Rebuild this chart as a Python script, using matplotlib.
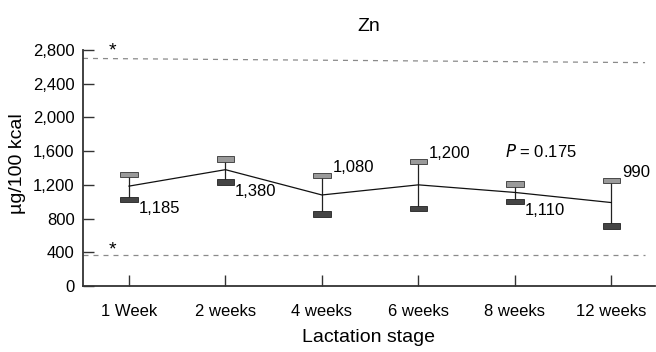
import matplotlib
matplotlib.use("Agg")
import matplotlib.pyplot as plt
import numpy as np

# Data (Zn, lactation stages)
stages = ["1 Week", "2 weeks", "4 weeks", "6 weeks", "8 weeks", "12 weeks"]
means = [1185, 1380, 1080, 1200, 1110, 990]
upper = [1323, 1507, 1311, 1477, 1210, 1251]
lower = [1026, 1234, 854, 919, 1002, 712]
mean_labels = ["1,185", "1,380", "1,080", "1,200", "1,110", "990"]
label_above = [False, False, True, True, False, True]
ref_upper = (2700, 2650)
ref_lower = (370, 370)
y_ticks = [0, 400, 800, 1200, 1600, 2000, 2400, 2800]

plt.rcParams["font.family"] = ["Liberation Sans", "DejaVu Sans"]
plt.rcParams["font.size"] = 12

fig = plt.figure(figsize=(6.56, 3.52), dpi=100)
ax = fig.add_axes([0.1265, 0.1875, 0.8715, 0.6705])

x = np.arange(len(stages))
spine_col = "#333333"

# reference limits (dashed)
ax.plot([-0.477, 5.35], ref_upper, ls=(0, (4, 4)), color="#8a8a8a", lw=0.9)
ax.plot([-0.477, 5.35], ref_lower, ls=(0, (4, 4)), color="#8a8a8a", lw=0.9)
ax.text(-0.17, 2790, "*", ha="center", va="center", fontsize=14, clip_on=False)
ax.text(-0.17, 430, "*", ha="center", va="center", fontsize=14)

# whiskers and caps
ax.vlines(x, lower, upper, color="#222222", lw=0.9, zorder=2)
ax.bar(x, 60, bottom=np.array(upper) - 30, width=0.18, color="#9a9a9a",
       edgecolor="#333333", linewidth=0.6, zorder=3)
ax.bar(x, 60, bottom=np.array(lower) - 30, width=0.18, color="#444444",
       edgecolor="#222222", linewidth=0.6, zorder=3)

# mean line
ax.plot(x, means, color="#111111", lw=0.9, zorder=2)

for xi, lab, up, lo, above in zip(x, mean_labels, upper, lower, label_above):
    if above:
        ax.text(xi + 0.11, up + 90, lab, ha="left", va="center")
    else:
        ax.text(xi + 0.1, lo - 110, lab, ha="left", va="center")

ax.text(4.27, 1590, "$P$ = 0.175", ha="center", va="center")

ax.set_xlim(-0.477, 5.45)
ax.set_ylim(0, 2800)
ax.set_yticks(y_ticks)
ax.set_yticklabels([f"{v:,}" for v in y_ticks])
ax.set_xticks(x)
ax.set_xticklabels(stages)

for side in ["top", "right"]:
    ax.spines[side].set_visible(False)
for side in ["left", "bottom"]:
    ax.spines[side].set_color(spine_col)
    ax.spines[side].set_linewidth(1.3)

ax.tick_params(axis="x", direction="in", length=8, width=1, color=spine_col, pad=13)
ax.tick_params(axis="y", direction="in", length=8, width=1, color=spine_col, pad=6)

ax.set_title("Zn", fontsize=14, pad=14)
ax.set_ylabel("µg/100 kcal", fontsize=14, va="center")
ax.yaxis.set_label_coords(-0.114, 0.52)
ax.set_xlabel("Lactation stage", fontsize=14, va="center")
ax.xaxis.set_label_coords(0.5, -0.22)

fig.savefig("out.png", dpi=100)
